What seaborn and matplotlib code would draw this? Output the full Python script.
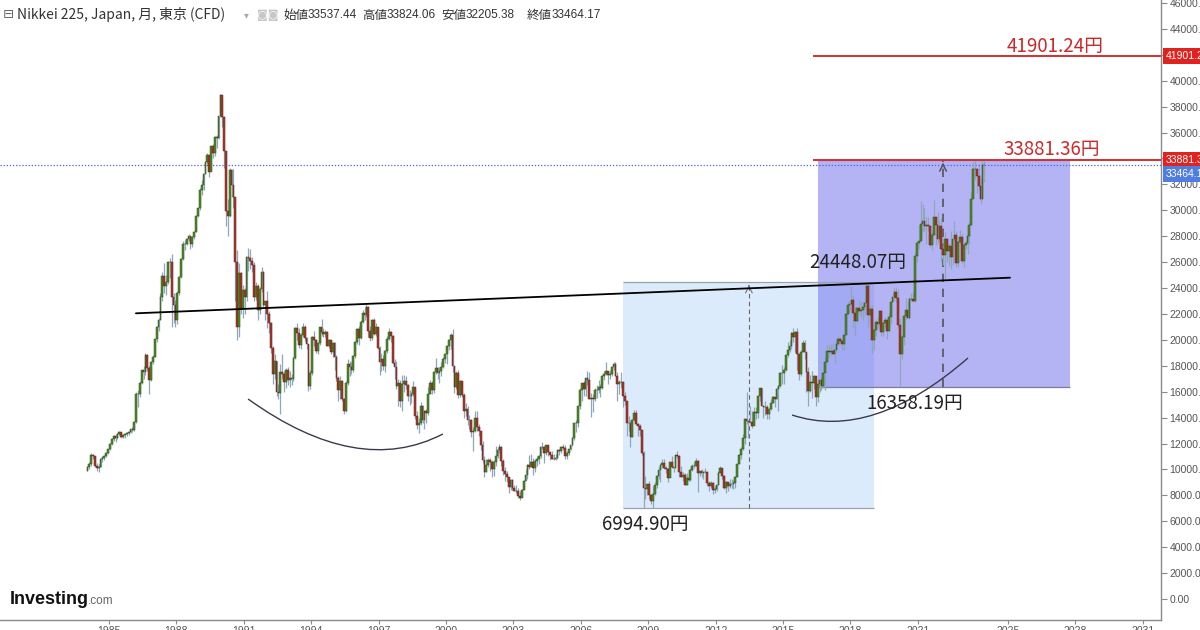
import matplotlib
matplotlib.use("Agg")
import matplotlib.pyplot as plt
import matplotlib.transforms as mtransforms
import numpy as np
import pandas as pd
import seaborn as sns
from matplotlib.patches import PathPatch, Rectangle
from matplotlib.path import Path

# Monthly candles, Jan 1984 .. Dec 2023 (one row per year)
first_year = 1984
first_open = 9893
close = [
    10196, 10400, 11100, 11000, 10300, 10100, 10200, 10800, 10850, 11050, 11250, 11543,
    11990, 12320, 12580, 12426, 12758, 12882, 12503, 12656, 12700, 12800, 12900, 13113,
    13024, 13640, 15860, 15825, 16700, 17650, 17550, 18800, 17852, 16910, 18300, 18701,
    20048, 21008, 21566, 23275, 24901, 24176, 24488, 26029, 26011, 23329, 22686, 21564,
    23622, 24829, 26260, 27434, 27417, 27769, 28000, 27366, 27923, 28357, 29579, 30159,
    31581, 31985, 32839, 33713, 34267, 32948, 34954, 34431, 35637, 35549, 37269, 38916,
    37189, 34592, 29980, 29585, 33131, 31940, 31036, 25978, 20984, 25194, 22455, 23849,
    23293, 26409, 26292, 26111, 25790, 23291, 24120, 22336, 23916, 25222, 22687, 22984,
    22023, 21338, 19346, 17391, 18348, 15952, 15910, 17555, 17399, 16767, 17684, 16925,
    17024, 16953, 18591, 20919, 20552, 19591, 20380, 21027, 20106, 19703, 16408, 17417,
    20229, 19997, 19112, 19725, 20974, 20644, 20449, 20629, 19564, 19990, 19076, 19723,
    18650, 17053, 16140, 16807, 15437, 14517, 16678, 18117, 17913, 17655, 18744, 19868,
    20813, 20125, 21407, 22041, 21956, 22531, 20693, 20167, 21556, 20467, 21020, 19361,
    18330, 18557, 18003, 19151, 20069, 20605, 20331, 18229, 17888, 16459, 16636, 15259,
    16628, 16832, 16527, 15641, 15671, 15831, 16379, 14108, 13406, 13564, 14884, 13842,
    14499, 14368, 15837, 16702, 16112, 17530, 17862, 17437, 17605, 17942, 18558, 18934,
    19540, 19959, 20337, 17974, 16332, 17411, 15727, 16861, 15747, 14540, 14649, 13786,
    13843, 12883, 12999, 13934, 13262, 12969, 11861, 10713, 9775, 10366, 10697, 10543,
    9998, 10588, 11025, 11493, 11764, 10622, 9878, 9619, 9383, 8640, 9216, 8579,
    8340, 8363, 7973, 7831, 8425, 9083, 9563, 10344, 10219, 10560, 10101, 10677,
    10784, 11042, 11715, 11762, 11236, 11859, 11326, 11082, 10824, 10771, 10899, 11489,
    11388, 11741, 11669, 11009, 11277, 11584, 11900, 12414, 13574, 13607, 14872, 16111,
    16650, 16206, 17060, 16906, 15467, 15505, 15457, 16141, 16128, 16399, 16274, 17226,
    17383, 17604, 17288, 17400, 17876, 18138, 17249, 16569, 16786, 16738, 15681, 15308,
    13592, 13603, 12526, 13850, 14339, 13481, 13377, 13073, 11260, 8577, 8512, 8860,
    7994, 7568, 8110, 8828, 9523, 9958, 10357, 10493, 10133, 10035, 9346, 10546,
    10198, 10126, 11090, 11057, 9769, 9383, 9537, 8824, 9369, 9202, 9937, 10229,
    10238, 10624, 9755, 9850, 9694, 9816, 9833, 8955, 8700, 8988, 8435, 8455,
    8803, 9723, 10084, 9521, 8543, 9007, 8695, 8840, 8870, 8928, 9446, 10395,
    11139, 11559, 12398, 13861, 13775, 13677, 13668, 13389, 14456, 14328, 15662, 16291,
    14915, 14841, 14828, 14304, 14632, 15162, 15621, 15425, 16174, 16414, 17460, 17451,
    17674, 18798, 19207, 19520, 20563, 20236, 20585, 18890, 17388, 19083, 19747, 19034,
    17518, 16027, 16759, 16666, 17235, 15576, 16569, 16887, 16450, 17425, 18308, 19114,
    19041, 19119, 18909, 19197, 19651, 20033, 19925, 19646, 20356, 22012, 22725, 22765,
    23098, 22068, 21454, 22468, 22202, 22305, 22554, 22865, 24120, 21920, 22351, 20015,
    20773, 21385, 21206, 22259, 20601, 21276, 21522, 20704, 21756, 22927, 23294, 23657,
    23205, 21143, 18917, 20194, 21878, 22288, 21710, 23140, 23185, 22977, 26434, 27444,
    27663, 28966, 29179, 28813, 28860, 28792, 27284, 28090, 29453, 28893, 27822, 28792,
    27002, 26527, 27821, 26848, 27280, 26393, 27802, 28092, 25937, 27587, 27969, 26095,
    27327, 27446, 28041, 28856, 30888, 33189, 33172, 32619, 31858, 30859, 33487, 33464,
]
high = [
    10300, 10600, 11300, 11200, 11000, 10500, 10400, 10950, 11000, 11150, 11350, 11600,
    12050, 12400, 12650, 12700, 12850, 12950, 12900, 12750, 12800, 12900, 13000, 13150,
    13300, 13700, 16000, 16100, 16800, 17700, 18000, 18950, 18900, 17950, 18400, 18850,
    20100, 21100, 21700, 23600, 25200, 25900, 25000, 26100, 26300, 26650, 23600, 23100,
    23800, 24900, 26300, 27600, 27700, 27900, 28200, 28050, 28000, 28400, 29650, 30200,
    31700, 32300, 32900, 33800, 34400, 34300, 35000, 35100, 35700, 35800, 37300, 38957,
    38700, 37300, 34600, 30900, 33300, 33200, 33200, 31000, 26900, 25900, 25200, 24200,
    24000, 26500, 27100, 27000, 26400, 26000, 24500, 24300, 24100, 25600, 25300, 23000,
    23800, 22200, 21400, 19500, 18900, 18400, 16600, 18100, 18900, 17600, 17800, 17900,
    17600, 17400, 18700, 21000, 21300, 20900, 20500, 21300, 21148, 20200, 19700, 17700,
    20300, 20700, 20100, 19800, 21000, 21573, 20900, 20800, 20700, 20100, 20000, 19800,
    19800, 18800, 17200, 17200, 16900, 15500, 16800, 18500, 18400, 18300, 18800, 19900,
    20900, 21100, 21500, 22300, 22500, 22750, 22600, 21100, 21600, 21700, 21300, 21000,
    19500, 19000, 18800, 19200, 20300, 20900, 20700, 20400, 18500, 18400, 17000, 16900,
    17300, 17300, 17200, 16600, 16100, 16000, 16800, 16300, 14500, 14000, 15200, 15000,
    14600, 14700, 16400, 16900, 16800, 17600, 18600, 17900, 17900, 18300, 18700, 18990,
    19600, 20100, 20500, 20833, 18000, 17600, 17700, 16900, 16800, 15900, 15100, 14900,
    14200, 13900, 13300, 14500, 14500, 13500, 13000, 12200, 11000, 10800, 10900, 10900,
    10700, 10700, 11800, 11700, 12000, 11800, 10800, 10200, 9900, 9400, 9300, 9300,
    8800, 8800, 8600, 8300, 8500, 9200, 10000, 10400, 11100, 11200, 10900, 10800,
    11000, 11100, 11800, 12100, 11800, 11900, 11900, 11300, 11400, 11200, 11200, 11500,
    11600, 11800, 12000, 11900, 11400, 11600, 11900, 12500, 13600, 13800, 14900, 16300,
    16700, 16800, 17100, 17600, 17500, 15900, 15800, 16300, 16500, 16900, 16600, 17300,
    17600, 18300, 17600, 17700, 17900, 18300, 18300, 17500, 16900, 17500, 16800, 16000,
    15200, 14100, 13700, 13900, 14600, 14600, 13600, 13500, 12800, 11400, 9500, 8900,
    9100, 8000, 8700, 9000, 9600, 10200, 10400, 10800, 10800, 10300, 10100, 10600,
    11000, 10200, 11100, 11400, 11100, 10300, 9800, 9700, 9700, 9600, 10100, 10400,
    10600, 10900, 10700, 9900, 10000, 9900, 10100, 9900, 9100, 9100, 9000, 8700,
    8900, 9900, 10300, 10100, 9600, 9100, 9000, 9300, 9300, 9200, 9500, 10400,
    11200, 11700, 12700, 14000, 15942, 13700, 14900, 14500, 14800, 14800, 15700, 16300,
    16300, 15000, 15300, 15000, 14700, 15400, 15700, 15600, 16400, 16500, 17500, 18030,
    17900, 18800, 19800, 20000, 20600, 20952, 20700, 20900, 18800, 19200, 20000, 20000,
    18900, 17900, 17300, 17600, 17300, 17200, 16900, 17000, 17100, 17500, 18700, 19600,
    19600, 19700, 19700, 19300, 19900, 20300, 20200, 20100, 20400, 22100, 23000, 23000,
    24129, 23500, 22500, 22500, 23050, 23000, 22900, 23000, 24300, 24448, 22700, 22700,
    20900, 21500, 21800, 22300, 22300, 21400, 21800, 21600, 22100, 23000, 23600, 24000,
    24100, 23900, 21700, 20400, 22000, 23200, 23000, 23300, 23600, 23700, 26800, 27600,
    28900, 30714, 30500, 30200, 29500, 29500, 28900, 28300, 30795, 29500, 29900, 29200,
    29400, 27400, 28300, 27900, 27500, 28400, 27800, 29200, 28400, 27600, 28500, 28200,
    27500, 27700, 28600, 29100, 31400, 33700, 33881, 33300, 33400, 32500, 33800, 33824,
]
low = [
    9900, 10050, 10300, 10800, 10200, 9900, 9800, 10150, 10600, 10750, 10950, 11200,
    11500, 11900, 12200, 12150, 12350, 12650, 12400, 12400, 12450, 12550, 12650, 12850,
    12900, 12950, 13600, 14800, 15600, 16600, 17000, 17300, 17600, 15800, 16800, 18100,
    18700, 19800, 20700, 21500, 23000, 23600, 23500, 24300, 24800, 21000, 21300, 21000,
    21200, 23500, 24800, 26200, 26900, 27300, 27600, 27000, 27200, 27800, 28300, 29500,
    30000, 31200, 31600, 32800, 33600, 32600, 33100, 34000, 34200, 34800, 35500, 37200,
    36400, 33300, 28800, 28000, 29500, 31000, 30200, 23000, 20000, 20222, 22000, 21700,
    22000, 23000, 25300, 25500, 25200, 23000, 23100, 21500, 22000, 23700, 22500, 21500,
    20900, 20500, 19000, 16600, 17000, 15700, 15400, 14309, 17000, 16000, 16300, 16500,
    16400, 16500, 16800, 18500, 20000, 19400, 19300, 20200, 19900, 19300, 16078, 16200,
    17300, 19500, 19000, 18900, 19600, 20300, 20200, 20200, 19500, 19400, 18900, 18700,
    17700, 16800, 15300, 15400, 15300, 14295, 14400, 16500, 17200, 17400, 17500, 18600,
    19700, 19600, 20100, 21300, 21500, 21800, 20200, 19900, 20000, 20400, 20300, 19300,
    17300, 17600, 17700, 17500, 19000, 20000, 19800, 18100, 17000, 16200, 14900, 14800,
    14500, 16000, 16200, 15300, 15000, 15100, 15700, 13900, 13100, 12787, 13400, 13600,
    13100, 13600, 14200, 15800, 15800, 15900, 17400, 17000, 16700, 17200, 17800, 18200,
    18100, 19200, 19300, 17500, 15900, 16200, 15500, 15600, 15600, 14000, 14100, 13400,
    13100, 12500, 11400, 12900, 13000, 12600, 11500, 10500, 9382, 9800, 10200, 9900,
    9400, 9500, 10300, 10900, 11300, 10300, 9600, 9100, 9000, 8200, 8400, 8400,
    8300, 8200, 7800, 7607, 7900, 8400, 9100, 9300, 10000, 10300, 9600, 9800,
    10300, 10400, 10900, 11600, 10500, 11100, 11000, 10700, 10800, 10700, 10700, 10800,
    11100, 11300, 11500, 10800, 10800, 11100, 11500, 11800, 12300, 12900, 13300, 14700,
    15300, 15700, 15700, 16500, 15400, 14045, 14400, 15300, 15500, 15900, 15600, 16200,
    16900, 17300, 16600, 17000, 17200, 17700, 17200, 15300, 15800, 16300, 14800, 15000,
    12600, 13000, 11700, 12500, 13700, 13400, 12600, 12600, 11100, 6995, 7700, 8000,
    7700, 7300, 7021, 8000, 8600, 9300, 9000, 10100, 10000, 9700, 9000, 9400,
    10100, 9800, 10100, 10900, 9400, 9400, 9100, 8800, 8800, 9100, 9100, 9900,
    10100, 10300, 8227, 9500, 9400, 9300, 9700, 8700, 8300, 8600, 8100, 8200,
    8300, 8800, 9700, 9300, 8500, 8200, 8300, 8600, 8600, 8500, 8600, 9400,
    10400, 10800, 11500, 12000, 13500, 12400, 13600, 13200, 13500, 13900, 14000, 15300,
    14900, 14000, 14200, 13900, 13900, 14600, 15100, 14800, 15400, 14529, 16400, 16600,
    16600, 17600, 18700, 19100, 19300, 19800, 19100, 17700, 16900, 17200, 19100, 18500,
    16000, 14865, 16000, 15500, 16200, 14864, 15200, 16000, 16100, 16300, 16100, 18200,
    18700, 18800, 18900, 18200, 19100, 19500, 19800, 19200, 19200, 20400, 21900, 22200,
    22700, 20950, 20300, 21400, 22000, 21800, 21500, 22000, 22300, 20971, 21200, 18949,
    19200, 20300, 20900, 21400, 20300, 20300, 21000, 20100, 20700, 21200, 22900, 23000,
    22900, 20900, 16358, 18500, 19600, 21500, 21700, 21600, 23000, 22900, 22900, 26000,
    27000, 27600, 28300, 28400, 27400, 28400, 27200, 26954, 28000, 27300, 27500, 27600,
    26000, 25800, 24681, 26000, 25700, 25500, 25800, 27600, 25600, 25600, 27400, 25900,
    25600, 27000, 26600, 27400, 28800, 31300, 32300, 31300, 31600, 30500, 30800, 32205,
]

x_ticks = [1985, 1988, 1991, 1994, 1997, 2000, 2003, 2006, 2009, 2012, 2015, 2018, 2021, 2025, 2028, 2031]
y_ticks = list(range(0, 46001, 2000))
hidden_y_labels = [42000, 34000]   # covered by the price boxes in the original

header_name = "Nikkei 225, Japan, 月, 東京 (CFD)"
header_labels = ["始値", "高値", "安値", "終値"]
header_values = ["33537.44", "33824.06", "32205.38", "33464.17"]

last_price = 33464.17
target_price = 41901.24
top_price = 33881.36
low_2008 = 6994.90
high_2018 = 24448.07
low_2020 = 16358.19

df = pd.DataFrame({"close": close, "high": high, "low": low})
df["open"] = [first_open] + close[:-1]
df["t"] = first_year + (np.arange(len(df)) + 0.5) / 12
df["up"] = df["close"] >= df["open"]

sns.set_theme(style="white")
plt.rcParams["font.family"] = ["Noto Sans CJK JP", "DejaVu Sans"]
narrow = ["Liberation Sans", "DejaVu Sans"]

fig = plt.figure(figsize=(12, 6.3), dpi=100)
ax = fig.add_axes([0, 10 / 630, 1161 / 1200, 620 / 630])
ax.set_xlim(1980.15, 2031.82)
ax.set_ylim(-1620, 46230)

# price-range boxes
ax.add_patch(Rectangle((2007.87, low_2008), 2019.05 - 2007.87, high_2018 - low_2008,
                       facecolor="#dcebfb", edgecolor="none", zorder=1))
ax.hlines([low_2008, high_2018], 2007.87, 2019.05, color="#9aa3ad", lw=0.9, zorder=1.5)
ax.add_patch(Rectangle((2016.55, low_2020), 2027.77 - 2016.55, top_price - low_2020,
                       facecolor="#6464eb", alpha=0.48, edgecolor="none", zorder=1.2))
ax.hlines([low_2020, top_price], 2016.55, 2027.77, color="#7c7c9c", lw=0.9, zorder=1.5)

# dashed measure lines with carets
ax.vlines(2013.48, low_2008, high_2018, color="#666666", lw=0.8, linestyles=(0, (4, 3)), zorder=2)
ax.annotate("", xy=(2013.48, high_2018), xytext=(2013.48, high_2018 - 500),
            arrowprops=dict(arrowstyle="->", color="#777777", lw=0.8), zorder=2)
ax.vlines(2022.12, low_2020, top_price, color="#555555", lw=1.2, linestyles=(0, (5, 4)), zorder=2)
ax.annotate("", xy=(2022.12, top_price), xytext=(2022.12, top_price - 600),
            arrowprops=dict(arrowstyle="->", color="#555555", lw=1.1), zorder=2)

# current price dotted line
ax.axhline(last_price, color="#4a5ee6", lw=0.9, ls=(0, (1, 1.5)), zorder=2)

# candles
ax.vlines(df["t"], df["low"], df["high"], color="#8fa6bb", lw=0.9, zorder=3)
body_lo = df[["open", "close"]].min(axis=1)
body_h = (df["close"] - df["open"]).abs()
ax.bar(df["t"], body_h, bottom=body_lo, width=0.078,
       color=np.where(df["up"], "#4f8c26", "#aa3527"),
       edgecolor=np.where(df["up"], "#2f4f18", "#66261c"), lw=0.35, zorder=4)

# trend line
sns.lineplot(x=[1986.2, 2025.1], y=[22050, 24800], color="black", lw=1.3, ax=ax, zorder=5)

# rounded-bottom arcs
for p0, c, p2 in [((1991.19, 15436), (1996.08, 9339), (1999.86, 12734)),
                  ((2015.40, 14201), (2018.96, 12155), (2023.23, 18600))]:
    path = Path([p0, c, p2], [Path.MOVETO, Path.CURVE3, Path.CURVE3])
    ax.add_patch(PathPatch(path, facecolor="none", edgecolor="#3a3a4a", lw=1.0, zorder=5))

# red target lines and level labels
ax.hlines([target_price, top_price], 2016.33, 2031.82, color="#d23030", lw=1.4, zorder=6)
ax.text(2024.96, 42603, f"{target_price:.2f}円", color="#cc2a2a", fontsize=13.5, va="center", zorder=7)
ax.text(2024.83, 34730, f"{top_price:.2f}円", color="#cc2a2a", fontsize=13.5, va="center", zorder=7)
ax.text(2016.15, 26009, f"{high_2018:.2f}円", color="#222222", fontsize=13.5, va="center", zorder=7)
ax.text(2006.94, 5788, f"{low_2008:.2f}円", color="#222222", fontsize=13.5, va="center", zorder=7)
ax.text(2018.73, 15127, f"{low_2020:.2f}円", color="#222222", fontsize=13.5, va="center", zorder=7)

# axes styling
for s in ["left", "top"]:
    ax.spines[s].set_visible(False)
for s in ["right", "bottom"]:
    ax.spines[s].set_color("#8a8a8a")
    ax.spines[s].set_linewidth(1.0)
ax.yaxis.tick_right()
ax.set_yticks(y_ticks)
ax.set_yticklabels(["" if v in hidden_y_labels else f"{v:.2f}" for v in y_ticks])
ax.set_xticks(x_ticks)
ax.set_xticklabels([str(v) for v in x_ticks])
ax.tick_params(axis="y", right=True, left=False, length=4, width=0.8, pad=2,
               labelsize=7.5, colors="#8a8a8a", labelcolor="#555555")
ax.tick_params(axis="x", bottom=True, length=3, width=0.8, pad=1,
               labelsize=7.5, colors="#8a8a8a", labelcolor="#555555")
for lbl in ax.get_xticklabels() + ax.get_yticklabels():
    lbl.set_family(narrow)
ax.grid(False)

# price boxes on the right axis
trans = mtransforms.blended_transform_factory(ax.transAxes, ax.transData)
for val, ypos, fc in [(target_price, target_price, "#e0231f"),
                      (top_price, top_price, "#e0231f"),
                      (last_price, 32820, "#4f7ee0")]:
    ax.text(1.0042, ypos, f"{val:.2f}", transform=trans, color="white", fontsize=7.5,
            va="center", ha="left", family=narrow, clip_on=False,
            bbox=dict(boxstyle="square,pad=0.3", fc=fc, ec="none"), zorder=8)

# header line
hy = 1 - 15 / 630
fig.text(3 / 1200, hy, "⊟", fontsize=9.5, color="#666666", va="center", family=["DejaVu Sans"])
fig.text(17 / 1200, hy, header_name, fontsize=10, color="#333333", va="center")
fig.text(244 / 1200, hy, "▾", fontsize=7, color="#aaaaaa", va="center", family=["DejaVu Sans"])
fig.text(257 / 1200, hy, "◙◙", fontsize=8, color="#c8c8c8", va="center", family=["DejaVu Sans"])
for xp, lab, val in zip([283, 362, 441, 527], header_labels, header_values):
    fig.text(xp / 1200, hy, lab, fontsize=9, color="#333333", va="center")
    fig.text((xp + 25) / 1200, hy, val, fontsize=8.5, color="#333333", va="center", family=narrow)

# logo
fig.text(10 / 1200, 1 - 599 / 630, "Investing", fontsize=13, fontweight="bold",
         color="#111111", va="center", family=narrow)
fig.text(88 / 1200, 1 - 601 / 630, ".com", fontsize=8.5, color="#666666", va="center",
         family=narrow)

fig.savefig("out.png", dpi=100)
